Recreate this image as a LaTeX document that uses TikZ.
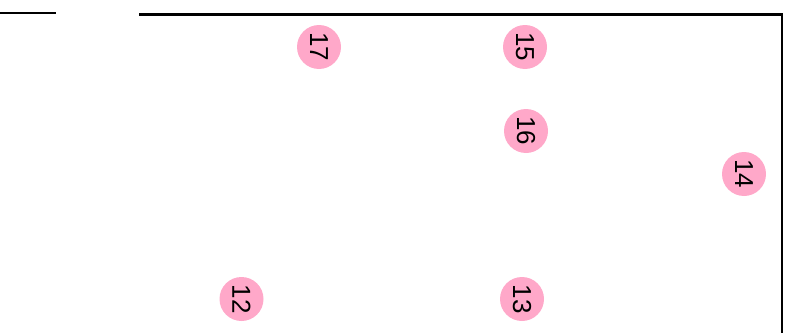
\documentclass[tikz,border=0pt]{standalone}
\usepackage{fontspec}
\setmainfont{Liberation Sans}
\newfontfamily\numfont{Liberation Sans}
\definecolor{pinkc}{HTML}{FFA8C9}
\begin{document}
\begin{tikzpicture}[x=1pt,y=-1pt,
  num/.style={circle,fill=pinkc,minimum size=44pt,inner sep=0pt,
    font=\numfont\fontsize{26}{26}\selectfont,rotate=-90},
  wall/.style={line width=2.4pt,draw=black}]
\useasboundingbox (0,0) rectangle (792,332);
\coordinate (a1) at (0,13);
\coordinate (a2) at (56,13);
\coordinate (b1) at (139,14.5);
\coordinate (b2) at (782,14.5);
\coordinate (b3) at (782,333);
\draw[wall] (a1) -- (a2);
\draw[wall,line join=miter] (b1) -- (b2) -- (b3);
\node[num] (n17) at (319,47) {17};
\node[num] (n15) at (525,47) {15};
\node[num] (n16) at (526,131) {16};
\node[num] (n14) at (744,174) {14};
\node[num] (n12) at (241.5,299) {12};
\node[num] (n13) at (522,299) {13};
\end{tikzpicture}
\end{document}
